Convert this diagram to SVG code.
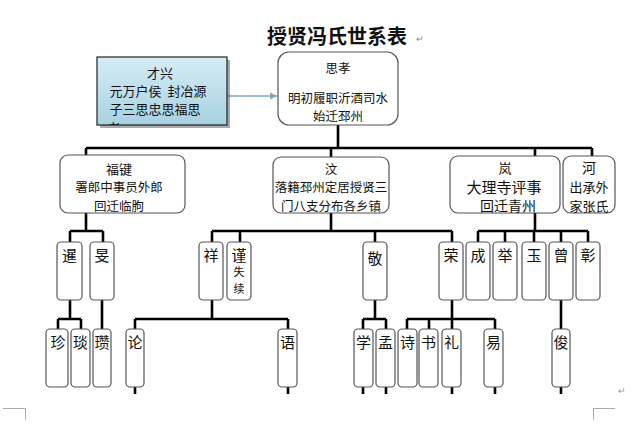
<svg xmlns="http://www.w3.org/2000/svg" width="640" height="426" viewBox="0 0 640 426">
<defs>
<linearGradient id="blueg" x1="0" y1="0" x2="0" y2="1">
<stop offset="0" stop-color="#d6ecf4"/>
<stop offset="1" stop-color="#a6d2e3"/>
</linearGradient>
<clipPath id="bclip"><rect x="97" y="57" width="130" height="68"/></clipPath>
<marker id="arr" markerWidth="8" markerHeight="8" refX="7" refY="4" orient="auto" markerUnits="userSpaceOnUse">
<path d="M0,0.5 L7,4 L0,7.5 Z" fill="#7ea6c8"/>
</marker>
<style>
.t{font-family:"Noto Sans CJK SC","Noto Sans",sans-serif;fill:#111;text-anchor:middle;dominant-baseline:central}
.box{fill:#fff;stroke:#555;stroke-width:1.2}
.ln{stroke:#000;stroke-width:2.6;fill:none}
.mk{stroke:#aaa;stroke-width:1;fill:none}
.f12{font-size:12.5px}
.f14{font-size:14px}
.f15{font-size:15px}
.b13{font-size:13px}
</style>
</defs>
<rect width="640" height="426" fill="#fff"/>
<text x="337" y="35" class="t" style="font-size:20px;font-weight:bold">授贤冯氏世系表</text>
<text x="420" y="38" class="t" style="font-size:9px;fill:#888">↵</text>

<g id="connectors">
<line x1="228" y1="96" x2="277" y2="96" stroke="#7ea6c8" stroke-width="1.5" marker-end="url(#arr)"/>
<path class="ln" d="M338,125 V148 M86,148 H592 M86,148 V155 M331,148 V157 M535,148 V156 M592,148 V156"/>
<path class="ln" d="M86,213 V231 M70,231 H103 M70,231 V242 M103,231 V242"/>
<path class="ln" d="M331,213 V231 M212,231 H452 M212,231 V242 M240,231 V242 M375,231 V242 M452,231 V242"/>
<path class="ln" d="M535,213 V231 M478,231 H588 M478,231 V242 M505,231 V242 M534,231 V242 M561,231 V242 M588,231 V242"/>
<path class="ln" d="M70,300 V319 M58,319 H81 M58,319 V329 M81,319 V329 M102,300 V329"/>
<path class="ln" d="M212,300 V319 M135,319 H288 M135,319 V329 M288,319 V329"/>
<path class="ln" d="M375,300 V319 M363,319 H386 M363,319 V329 M386,319 V329"/>
<path class="ln" d="M452,300 V329 M407,319 H495 M407,319 V329 M429,319 V329 M495,319 V329"/>
<path class="ln" d="M561,300 V329"/>
<path class="ln" d="M135,387 V394 M288,387 V394 M363,387 V394 M386,387 V394 M452,387 V394 M495,387 V394 M561,387 V394"/>
</g>

<g id="n-caixing">
<rect x="100" y="60" width="130" height="68" fill="#555" opacity="0.5"/>
<rect x="97" y="57" width="130" height="68" fill="url(#blueg)" stroke="#222" stroke-width="1.2"/>
<g clip-path="url(#bclip)">
<text x="160" y="72" class="t b13">才兴</text>
<text x="158" y="90" class="t b13" xml:space="preserve">元万户侯  封冶源</text>
<text x="155" y="108" class="t b13">子三思忠思福思</text>
<text x="114" y="127" class="t b13">孝</text>
</g>
</g>

<g id="n-sixiao">
<rect x="278" y="52" width="120" height="73" rx="11" class="box"/>
<text x="338" y="67" class="t f12">思孝</text>
<text x="338" y="97" class="t f12">明初履职沂酒司水</text>
<text x="338" y="115" class="t f12">始迁邳州</text>
</g>

<g id="n-fujian">
<rect x="60" y="155" width="125" height="58" rx="8" class="box"/>
<text x="119" y="168" class="t b13">福键</text>
<text x="119" y="186" class="t f12">署郎中事员外郎</text>
<text x="119" y="205" class="t f12">回迁临朐</text>
</g>
<g id="n-wen">
<rect x="273" y="157" width="116" height="56" rx="8" class="box"/>
<text x="331" y="168" class="t f12">汶</text>
<text x="331" y="186" class="t f12">落籍邳州定居授贤三</text>
<text x="331" y="205" class="t f12">门八支分布各乡镇</text>
</g>
<g id="n-lan">
<rect x="450" y="156" width="110" height="57" rx="8" class="box"/>
<text x="505" y="167" class="t b13">岚</text>
<text x="504" y="186" class="t f15">大理寺评事</text>
<text x="508" y="205" class="t f14">回迁青州</text>
</g>
<g id="n-he">
<rect x="563" y="156" width="52" height="57" rx="8" class="box"/>
<text x="589" y="167" class="t f14">河</text>
<text x="589" y="186" class="t b13">出承外</text>
<text x="589" y="205" class="t b13">家张氏</text>
</g>

<g id="n-xian"><rect x="57" y="242" width="25" height="58" rx="4" class="box"/><text x="69.5" y="254" class="t f15">暹</text></g>
<g id="n-min"><rect x="90" y="242" width="24" height="58" rx="4" class="box"/><text x="102" y="254" class="t f15">旻</text></g>
<g id="n-xiang"><rect x="199" y="242" width="24" height="58" rx="4" class="box"/><text x="211" y="254" class="t f15">祥</text></g>
<g id="n-jin"><rect x="227" y="242" width="24" height="58" rx="4" class="box"/><text x="239" y="254" class="t f15">谨</text><text x="239" y="271" class="t" style="font-size:11px">失</text><text x="239" y="288" class="t" style="font-size:11px">续</text></g>
<g id="n-jing"><rect x="363" y="242" width="24" height="58" rx="4" class="box"/><text x="375" y="257" class="t f15">敬</text></g>
<g id="n-rong"><rect x="439" y="242" width="24" height="58" rx="4" class="box"/><text x="451" y="254" class="t f15">荣</text></g>
<g id="n-cheng"><rect x="466" y="242" width="24" height="58" rx="4" class="box"/><text x="478" y="254" class="t f15">成</text></g>
<g id="n-ju"><rect x="493" y="242" width="24" height="58" rx="4" class="box"/><text x="505" y="254" class="t f15">举</text></g>
<g id="n-yu"><rect x="522" y="242" width="24" height="58" rx="4" class="box"/><text x="534" y="254" class="t f15">玉</text></g>
<g id="n-zeng"><rect x="549" y="242" width="24" height="58" rx="4" class="box"/><text x="561" y="254" class="t f15">曾</text></g>
<g id="n-zhang"><rect x="576" y="242" width="24" height="58" rx="4" class="box"/><text x="588" y="254" class="t f15">彰</text></g>

<g id="n-zhen"><rect x="46" y="329" width="22" height="58" rx="4" class="box"/><text x="58" y="341" class="t f15">珍</text></g>
<g id="n-yan"><rect x="71" y="329" width="19" height="58" rx="4" class="box"/><text x="80.5" y="341" class="t f15">琰</text></g>
<g id="n-zan"><rect x="93" y="329" width="18" height="58" rx="4" class="box"/><text x="102" y="341" class="t f15">瓒</text></g>
<g id="n-lun"><rect x="126" y="329" width="18" height="58" rx="4" class="box"/><text x="135" y="341" class="t f15">论</text></g>
<g id="n-yu2"><rect x="278" y="329" width="19" height="58" rx="4" class="box"/><text x="287.5" y="341" class="t f15">语</text></g>
<g id="n-xue"><rect x="354" y="329" width="19" height="58" rx="4" class="box"/><text x="363.5" y="341" class="t f15">学</text></g>
<g id="n-meng"><rect x="376" y="329" width="19" height="58" rx="4" class="box"/><text x="385.5" y="341" class="t f15">孟</text></g>
<g id="n-shi"><rect x="398" y="329" width="19" height="58" rx="4" class="box"/><text x="407.5" y="341" class="t f15">诗</text></g>
<g id="n-shu"><rect x="419" y="329" width="19" height="58" rx="4" class="box"/><text x="428.5" y="341" class="t f15">书</text></g>
<g id="n-li"><rect x="442" y="329" width="19" height="58" rx="4" class="box"/><text x="451.5" y="341" class="t f15">礼</text></g>
<g id="n-yi"><rect x="484" y="329" width="19" height="58" rx="4" class="box"/><text x="493.5" y="341" class="t f15">易</text></g>
<g id="n-jun"><rect x="552" y="329" width="18" height="58" rx="4" class="box"/><text x="561" y="341" class="t f15">俊</text></g>

<text x="622" y="390" class="t" style="font-size:9px;fill:#999">↵</text>
<path class="mk" d="M3,408.5 H25.5 V420 M593.5,420 V408.5 H615"/>
</svg>
